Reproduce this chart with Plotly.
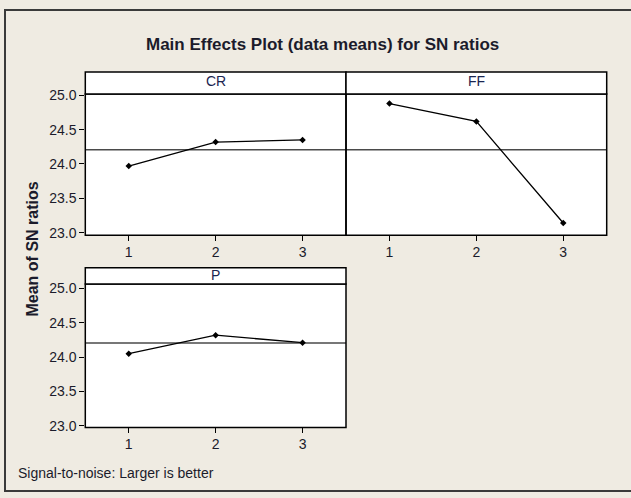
import numpy as np
import plotly.graph_objects as go

# ---- data ----
levels = [1, 2, 3]
factor_names = ["CR", "FF", "P"]
cr_means = [23.97, 24.32, 24.35]
ff_means = [24.88, 24.62, 23.14]
p_means = [24.05, 24.32, 24.21]
y_ticks = [23.0, 23.5, 24.0, 24.5, 25.0]
title_text = "Main Effects Plot (data means) for SN ratios"
y_title = "Mean of SN ratios"
footer_text = "Signal-to-noise: Larger is better"

grand_mean = float(np.mean(cr_means + ff_means + p_means))

W, H = 631, 498
BG = "#EFEBE2"
FONT = "Liberation Sans"
TXT = "#1b1b2b"


def px(x):
    return x / W


def py(y):
    return 1 - y / H


fig = go.Figure()
series = [(cr_means, "x", "y"), (ff_means, "x2", "y2"), (p_means, "x3", "y3")]
for vals, xa, ya in series:
    fig.add_trace(go.Scatter(
        x=levels, y=vals, xaxis=xa, yaxis=ya, mode="lines+markers",
        line=dict(color="black", width=1.3),
        marker=dict(symbol="diamond", size=5, color="black"),
        showlegend=False, hoverinfo="x+y"))

xl = [px(85.3), px(346)]
xr = [px(346), px(606.7)]
ytop = [py(234.3), py(89.3)]
ybot = [py(431.7), py(284.3)]

common_x = dict(range=[0.5, 3.5], tickvals=levels, ticks="outside", ticklen=5,
                tickcolor="black", tickwidth=1.2, showline=False,
                showgrid=False, zeroline=False, ticklabelstandoff=-1,
                tickfont=dict(family=FONT, size=14, color=TXT))
common_y = dict(tickvals=y_ticks, tickformat=".1f", ticks="outside", ticklen=5,
                tickcolor="black", tickwidth=1.2, showline=False,
                showgrid=False, zeroline=False,
                tickfont=dict(family=FONT, size=14, color=TXT))

fig.update_layout(
    width=W, height=H, autosize=False,
    margin=dict(l=0, r=0, t=0, b=0),
    paper_bgcolor=BG, plot_bgcolor="white",
    xaxis=dict(domain=xl, anchor="y", **common_x),
    yaxis=dict(domain=ytop, anchor="x", range=[22.963, 25.02], **common_y),
    xaxis2=dict(domain=xr, anchor="y2", **common_x),
    yaxis2=dict(domain=ytop, anchor="x2", range=[22.963, 25.02],
                **{**common_y, "ticks": "", "showticklabels": False}),
    xaxis3=dict(domain=xl, anchor="y3", **common_x),
    yaxis3=dict(domain=ybot, anchor="x3", range=[22.976, 25.067], **common_y),
)

shapes = []
# outer frame
shapes.append(dict(type="rect", xref="paper", yref="paper",
                   x0=px(5), x1=px(640), y0=py(497), y1=py(3),
                   line=dict(color="#3a3a3a", width=2), fillcolor="rgba(0,0,0,0)",
                   layer="above"))
# reference lines (grand mean)
for xa, ya in [("x", "y"), ("x2", "y2"), ("x3", "y3")]:
    shapes.append(dict(type="line", xref=f"{xa} domain", yref=ya,
                       x0=0, x1=1, y0=grand_mean, y1=grand_mean,
                       line=dict(color="#4a4a4a", width=1.4), layer="below"))
# panel borders
for xa, ya in [("x", "y"), ("x2", "y2"), ("x3", "y3")]:
    shapes.append(dict(type="rect", xref=f"{xa} domain", yref=f"{ya} domain",
                       x0=0, x1=1, y0=0, y1=1,
                       line=dict(color="black", width=1.5),
                       fillcolor="rgba(0,0,0,0)", layer="above"))
# strips
for (x0, x1), (top, bot) in [((85.3, 346), (66.7, 89.3)),
                             ((346, 606.7), (66.7, 89.3)),
                             ((85.3, 346), (267.7, 284.3))]:
    shapes.append(dict(type="rect", xref="paper", yref="paper",
                       x0=px(x0), x1=px(x1), y0=py(bot), y1=py(top),
                       line=dict(color="black", width=1.5), fillcolor="white"))
fig.update_layout(shapes=shapes)

ann = []
ann.append(dict(text=f"<b>{title_text}</b>", xref="paper", yref="paper",
                x=px(322), y=py(38), xanchor="center", yanchor="middle",
                showarrow=False, font=dict(family=FONT, size=17, color=TXT)))
strip_pos = [((85.3 + 346) / 2, 76), ((346 + 606.7) / 2, 76), ((85.3 + 346) / 2, 275)]
for name, (sx, sy) in zip(factor_names, strip_pos):
    ann.append(dict(text=name, xref="paper", yref="paper", x=px(sx), y=py(sy),
                    xanchor="center", yanchor="middle", showarrow=False,
                    font=dict(family=FONT, size=14, color="#1a2550")))
ann.append(dict(text=f"<b>{y_title}</b>", xref="paper", yref="paper",
                x=px(32), y=py(249), xanchor="center", yanchor="middle",
                textangle=-90, showarrow=False,
                font=dict(family=FONT, size=16, color=TXT)))
ann.append(dict(text=footer_text, xref="paper", yref="paper",
                x=px(16), y=py(478), xanchor="left", yanchor="middle",
                showarrow=False, font=dict(family=FONT, size=14, color=TXT)))
fig.update_layout(annotations=ann)

fig.write_html("out.html", config={"displayModeBar": False},
               post_script="document.body.style.margin='0';document.body.style.overflow='hidden';")
